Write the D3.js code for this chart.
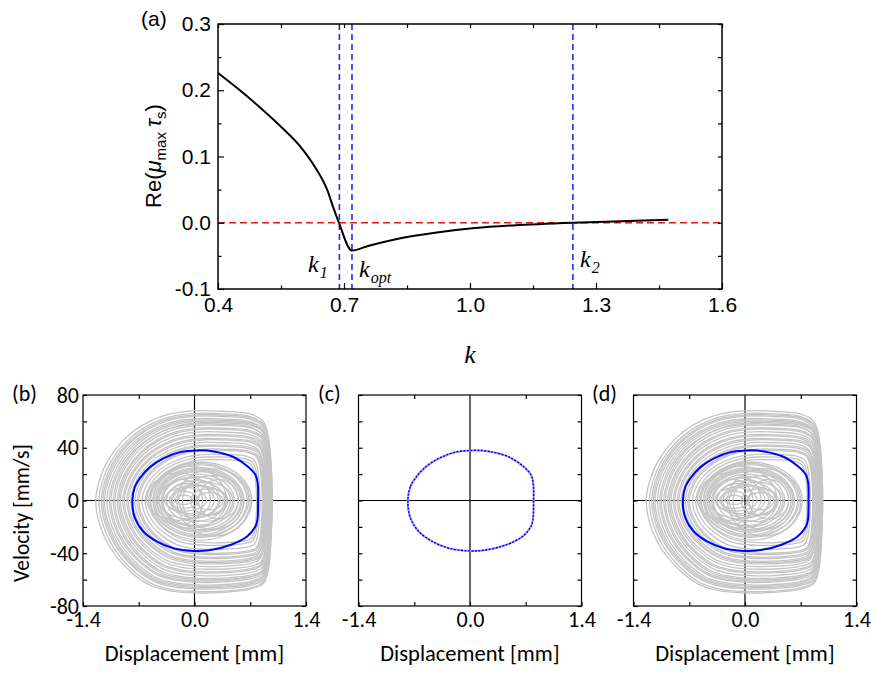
<!DOCTYPE html>
<html><head><meta charset="utf-8">
<script src="https://cdn.jsdelivr.net/npm/d3@7"></script>
<style>
html,body{margin:0;padding:0;background:#fff;}
svg{display:block;}
</style></head>
<body>
<svg id="chart" width="871" height="678"></svg>
<script>
// ---------- DATA ----------
// Panel (a): Re(mu_max tau_s) vs k
const kValues  = [0.400,0.450,0.500,0.550,0.600,0.630,0.661,0.674,0.688,0.719,0.757,0.829,0.921,1.012,1.103,1.245,1.377,1.472];
const reValues = [0.226,0.201,0.174,0.145,0.112,0.085,0.048,0.024,0.000,-0.042,-0.035,-0.024,-0.0146,-0.008,-0.004,0.000,0.0025,0.0045];
const kMarkers = [{name:"1", k:0.689},{name:"opt", k:0.719},{name:"2", k:1.245}];
const xTicksA = [0.4,0.7,1.0,1.3,1.6];
const xMinorA = [0.55,0.85,1.15,1.45];
const yTicksA = [-0.1,0.0,0.1,0.2,0.3];
const yMinorA = [-0.05,0.05,0.15,0.25];

// Panels (b)-(d): phase portraits (displacement mm, velocity mm/s)
const cycleX = [-0.78,-0.748,-0.685,-0.56,-0.39,-0.18,0.03,0.24,0.49,0.68,0.765,0.794,0.798,0.79,0.765,0.66,0.45,0.2,-0.01,-0.265,-0.475,-0.643,-0.748];
const cycleV = [0,10.6,17,25.3,32,36.7,38,37.2,33,25.3,19.5,13,0,-14.7,-19.7,-27.3,-33.7,-37.5,-38.2,-36.2,-31,-23.5,-13.4];
// loop extents: [left x, right x, top v, bottom v]
const grayOuterLoops = [
 [-1.24,0.975,68,-70],[-1.05,0.93,58,-61],[-1.20,0.97,66,-69],[-0.88,0.90,49,-50],
 [-1.15,0.96,64,-66],[-0.97,0.94,55,-57],[-0.80,0.88,44,-46],
 [-1.10,0.95,61,-64],[-0.70,0.85,38,-40],[-0.93,0.92,52,-54],
 [-1.00,0.95,57,-59],[-0.75,0.87,41,-43],[-1.13,0.955,62,-65],[-0.85,0.91,47,-48],
 [-0.66,0.82,35,-37],[-1.02,0.96,59,-60],
 [-0.78,0.89,42,-44],[-1.17,0.975,65,-67],[-0.90,0.92,50,-52],[-0.62,0.80,33,-34],
 [-0.83,0.90,46,-47],[-1.07,0.95,60,-62],[-0.72,0.86,39,-41],
 [-0.58,0.78,31,-32],[-0.95,0.93,54,-55]
];
const grayInnerLoops = [
 [-0.56,0.72,29,-30],[-0.50,0.62,25,-26],[-0.45,0.55,22,-22],[-0.52,0.66,27,-28],
 [-0.40,0.45,18,-19],[-0.47,0.58,23,-24],[-0.35,0.38,15,-16],[-0.42,0.50,20,-20],
 [-0.30,0.30,12,-13],[-0.38,0.15,10,-8],[-0.32,0.05,7,-6],[-0.25,-0.02,4,-3],
 [-0.05,0.42,9,-11],[0.02,0.36,6,-7],[-0.45,0.32,17,-14],[-0.20,0.48,14,-16],
 [-0.36,0.25,13,-10],[-0.28,0.40,11,-12],[-0.55,0.68,28,-27],[-0.48,0.60,24,-23],
 [-0.60,0.20,21,-15],[-0.15,0.62,19,-22],[-0.40,0.10,16,-18],[0.05,0.55,16,-14],
 [-0.52,0.40,26,-21],[-0.22,0.70,24,-27]
];
// normalized loop outlines (u across displacement, w across velocity)
const impactShape = [[-1,0],[-0.96,0.22],[-0.86,0.45],[-0.69,0.67],[-0.47,0.84],[-0.22,0.95],[0.10,1],[0.45,0.995],[0.75,0.965],[0.90,0.88],[0.955,0.72],[0.988,0.4],[1,0],[0.988,-0.4],[0.955,-0.76],[0.90,-0.9],[0.75,-0.96],[0.45,-0.995],[0.10,-1],[-0.2,-0.97],[-0.42,-0.9],[-0.66,-0.72],[-0.83,-0.52],[-0.955,-0.26]];
const roundShape = [[-1,0],[-0.866,0.5],[-0.5,0.866],[0,1],[0.5,0.866],[0.866,0.5],[1,0],[0.866,-0.5],[0.5,-0.866],[0,-1],[-0.5,-0.866],[-0.866,-0.5]];
const xTicksB = [-1.4,0.0,1.4];
const xMinorB = [-0.7,0.7];
const yTicksB = [-80,-40,0,40,80];
const yMinorB = [-60,-20,20,60];
const panelNames = ["(b)","(c)","(d)"];

// ---------- LAYOUT ----------
const panelLayout = [
 {left:83,    labelX:12,  gray:true,  yLabels:true,  dashed:false},
 {left:358.5, labelX:318, gray:false, yLabels:false, dashed:true},
 {left:633.5, labelX:592, gray:true,  yLabels:false, dashed:false}
];

// ---------- DRAW ----------
const svg = d3.select("#chart");
const fmt1 = d => d3.format(".1f")(d).replace("\u2212","-");
const fmt0 = d => d3.format("d")(d).replace("\u2212","-");

// ===== Panel (a) =====
const ax = d3.scaleLinear().domain([0.4,1.6]).range([218,722]);
const ay = d3.scaleLinear().domain([-0.1,0.3]).range([289,24]);
const gA = svg.append("g");
const arial = "'Liberation Sans', Arial, sans-serif";
const serif = "'Liberation Serif', 'Times New Roman', serif";

gA.append("line").attr("x1",ax(0.4)).attr("x2",ax(1.6)).attr("y1",ay(0)).attr("y2",ay(0))
  .attr("stroke","#e8181c").attr("stroke-width",1.3).attr("stroke-dasharray","7,4");
kMarkers.forEach(m=>{
  gA.append("line").attr("x1",ax(m.k)).attr("x2",ax(m.k)).attr("y1",ay(0.3)).attr("y2",ay(-0.1))
    .attr("stroke","#1a1aff").attr("stroke-width",1.5).attr("stroke-dasharray","6,4");
});
const lineA = d3.line().x((d,i)=>ax(kValues[i])).y((d,i)=>ay(reValues[i])).curve(d3.curveMonotoneX);
gA.append("path").datum(kValues).attr("d",lineA).attr("fill","none").attr("stroke","#000").attr("stroke-width",2);

function styleAxis(g, font, size){
  g.select(".domain").remove();
  g.selectAll("line").attr("stroke","#000").attr("stroke-width",1.2);
  g.selectAll("text").attr("font-family",font).attr("font-size",size).attr("fill","#000");
}
gA.append("g").attr("transform",`translate(0,${ay(-0.1)})`)
  .call(d3.axisBottom(ax).tickValues(xTicksA).tickFormat(fmt1).tickSize(-6).tickPadding(8))
  .call(g=>styleAxis(g,arial,21));
gA.append("g").attr("transform",`translate(0,${ay(-0.1)})`)
  .call(d3.axisBottom(ax).tickValues(xMinorA).tickFormat("").tickSize(-3.5))
  .call(g=>styleAxis(g,arial,21));
gA.append("g").attr("transform",`translate(0,${ay(0.3)})`)
  .call(d3.axisTop(ax).tickValues(xTicksA.concat(xMinorA)).tickFormat("").tickSize(-4))
  .call(g=>styleAxis(g,arial,21));
gA.append("g").attr("transform",`translate(${ax(0.4)},0)`)
  .call(d3.axisLeft(ay).tickValues(yTicksA).tickFormat(fmt1).tickSize(-6).tickPadding(7))
  .call(g=>styleAxis(g,arial,21));
gA.append("g").attr("transform",`translate(${ax(0.4)},0)`)
  .call(d3.axisLeft(ay).tickValues(yMinorA).tickFormat("").tickSize(-3.5))
  .call(g=>styleAxis(g,arial,21));
gA.append("g").attr("transform",`translate(${ax(1.6)},0)`)
  .call(d3.axisRight(ay).tickValues(yTicksA.concat(yMinorA)).tickFormat("").tickSize(-4))
  .call(g=>styleAxis(g,arial,21));
gA.append("rect").attr("x",ax(0.4)).attr("y",ay(0.3)).attr("width",ax(1.6)-ax(0.4)).attr("height",ay(-0.1)-ay(0.3))
  .attr("fill","none").attr("stroke","#000").attr("stroke-width",1.5);

gA.append("text").attr("x",141).attr("y",26).attr("font-family",arial).attr("font-size",21).text("(a)");
const yl = gA.append("text").attr("transform","translate(161,156) rotate(-90)")
  .attr("text-anchor","middle").attr("font-family",arial).attr("font-size",22);
yl.append("tspan").text("Re(");
yl.append("tspan").attr("font-style","italic").text("\u03bc");
yl.append("tspan").attr("font-size",15).attr("dy",5).text("max");
yl.append("tspan").attr("font-style","italic").attr("dy",-5).attr("dx",5).text("\u03c4");
yl.append("tspan").attr("font-size",15).attr("dy",5).text("s");
yl.append("tspan").attr("dy",-5).text(")");

gA.append("text").attr("x",470).attr("y",363).attr("text-anchor","middle")
  .attr("font-family",serif).attr("font-style","italic").attr("font-size",26).text("k");

const kLabelPos = [{x:308,y:272},{x:359,y:277},{x:580,y:267}];
kMarkers.forEach((m,i)=>{
  const t = gA.append("text").attr("x",kLabelPos[i].x).attr("y",kLabelPos[i].y)
    .attr("font-family",serif).attr("font-style","italic").attr("font-size",24);
  t.append("tspan").text("k");
  t.append("tspan").attr("font-size",16).attr("dy",6).attr("dx",1).text(m.name);
});

// ===== Panels (b)-(d) =====
const calibri = "Carlito, Lato, 'Open Sans', sans-serif";
const pw = 223, pTop = 395, pBottom = 606;
function loopOutline(L, shape){
  const [xl,xr,vt,vb] = L;
  const xc=(xl+xr)/2, hw=(xr-xl)/2;
  return shape.map(([u,w]) => [xc+u*hw, w>=0 ? w*vt : -w*vb]);
}
const outerOutlines = grayOuterLoops.map(L=>loopOutline(L, impactShape));
const innerOutlines = grayInnerLoops.map(L=>loopOutline(L, roundShape));
const cyclePts = cycleX.map((x,i)=>[x,cycleV[i]]);

panelLayout.forEach((p,pi)=>{
  const x = d3.scaleLinear().domain([-1.4,1.4]).range([p.left,p.left+pw]);
  const y = d3.scaleLinear().domain([-80,80]).range([pBottom,pTop]);
  const g = svg.append("g");
  g.append("line").attr("x1",x(0)).attr("x2",x(0)).attr("y1",pTop).attr("y2",pBottom).attr("stroke","#000").attr("stroke-width",1.2);
  g.append("line").attr("x1",p.left).attr("x2",p.left+pw).attr("y1",y(0)).attr("y2",y(0)).attr("stroke","#000").attr("stroke-width",1.2);
  const cl = d3.line().x(d=>x(d[0])).y(d=>y(d[1])).curve(d3.curveCatmullRomClosed.alpha(0.5));
  if(p.gray){
    g.append("g").selectAll("path").data(outerOutlines.concat(innerOutlines)).join("path")
      .attr("d",cl).attr("fill","none").attr("stroke","#c4c4c4").attr("stroke-width",1.3);
  }
  if(p.dashed){
    g.append("path").datum(cyclePts).attr("d",cl).attr("fill","none").attr("stroke","#9a9aff").attr("stroke-width",2);
    g.append("path").datum(cyclePts).attr("d",cl).attr("fill","none").attr("stroke","#0000ee").attr("stroke-width",1.4).attr("stroke-dasharray","2,1.5");
  } else {
    g.append("path").datum(cyclePts).attr("d",cl).attr("fill","none").attr("stroke","#0000ff").attr("stroke-width",2);
  }
  g.append("g").attr("transform",`translate(0,${pBottom})`)
    .call(d3.axisBottom(x).tickValues(xTicksB).tickFormat(fmt1).tickSize(-4).tickPadding(5))
    .call(a=>styleAxis(a,calibri,22));
  g.append("g").attr("transform",`translate(0,${pBottom})`)
    .call(d3.axisBottom(x).tickValues(xMinorB).tickFormat("").tickSize(-4))
    .call(a=>styleAxis(a,calibri,22));
  g.append("g").attr("transform",`translate(0,${pTop})`)
    .call(d3.axisTop(x).tickValues(xMinorB).tickFormat("").tickSize(-4))
    .call(a=>styleAxis(a,calibri,22));
  g.append("g").attr("transform",`translate(${p.left},0)`)
    .call(d3.axisLeft(y).tickValues(yTicksB).tickFormat(p.yLabels?fmt0:"").tickSize(-4).tickPadding(4))
    .call(a=>styleAxis(a,calibri,22));
  g.append("g").attr("transform",`translate(${p.left},0)`)
    .call(d3.axisLeft(y).tickValues(yMinorB).tickFormat("").tickSize(-4))
    .call(a=>styleAxis(a,calibri,22));
  g.append("g").attr("transform",`translate(${p.left+pw},0)`)
    .call(d3.axisRight(y).tickValues(yTicksB.concat(yMinorB)).tickFormat("").tickSize(-4))
    .call(a=>styleAxis(a,calibri,22));
  g.append("rect").attr("x",p.left).attr("y",pTop).attr("width",pw).attr("height",pBottom-pTop)
    .attr("fill","none").attr("stroke","#000").attr("stroke-width",1.2);
  g.append("text").attr("x",p.labelX).attr("y",401).attr("font-family",calibri).attr("font-size",22).text(panelNames[pi]);
  g.append("text").attr("x",p.left+pw/2).attr("y",661).attr("text-anchor","middle")
    .attr("font-family",calibri).attr("font-size",22.5).text("Displacement [mm]");
  if(p.yLabels){
    g.append("text").attr("transform",`translate(29,513) rotate(-90)`).attr("text-anchor","middle")
      .attr("font-family",calibri).attr("font-size",21.5).text("Velocity [mm/s]");
  }
});
</script>
</body></html>
